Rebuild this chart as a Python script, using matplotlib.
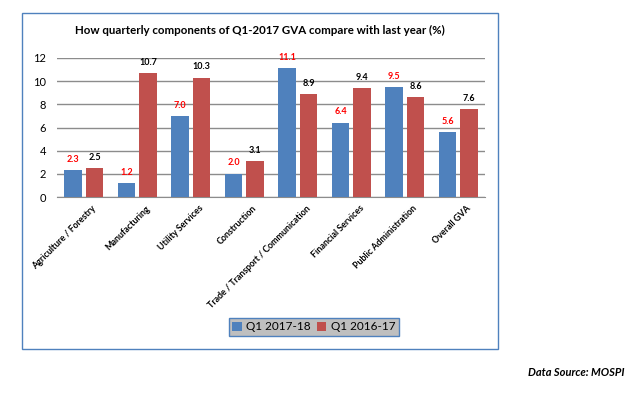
import matplotlib.pyplot as plt
import numpy as np

categories = ["Agriculture / Forestry", "Manufacturing", "Utility Services", "Construction",
              "Trade / Transport / Communication", "Financial Services",
              "Public Administration", "Overall GVA"]
q1_2017_18 = [2.3, 1.2, 7.0, 2.0, 11.1, 6.4, 9.5, 5.6]
q1_2016_17 = [2.5, 10.7, 10.3, 3.1, 8.9, 9.4, 8.6, 7.6]
yticks = [0, 2, 4, 6, 8, 10, 12]

blue = "#4F81BD"
red = "#C0504D"
plt.rcParams['font.family'] = ['Lato', 'DejaVu Sans']

fig = plt.figure(figsize=(6.32, 3.93), dpi=100)

# outer chart frame
frame = plt.Rectangle((22 / 632, 1 - 349 / 393), (498 - 22) / 632, (349 - 13) / 393,
                      transform=fig.transFigure, fill=False, edgecolor="#4F81BD", lw=1)
fig.patches.append(frame)

ax = fig.add_axes([57 / 632, 1 - 197 / 393, (485 - 57) / 632, (197 - 58) / 393])
x = np.arange(len(categories))
w = 0.32
b1 = ax.bar(x - 0.2, q1_2017_18, w, color=blue, label="Q1 2017-18", zorder=3)
b2 = ax.bar(x + 0.2, q1_2016_17, w, color=red, label="Q1 2016-17", zorder=3)

for rect, v in zip(b1, q1_2017_18):
    ax.text(rect.get_x() + rect.get_width() / 2, v + 0.55, f"{v:.1f}", ha="center", va="bottom",
            fontsize=6.5, fontweight="bold", color="red")
for rect, v in zip(b2, q1_2016_17):
    ax.text(rect.get_x() + rect.get_width() / 2, v + 0.55, f"{v:.1f}", ha="center", va="bottom",
            fontsize=6.5, fontweight="bold", color="black")

ax.set_xlim(-0.5, len(categories) - 0.5)
ax.set_ylim(0, 12)
ax.set_yticks(yticks)
ax.tick_params(axis="y", length=0, labelsize=8, pad=8)
ax.tick_params(axis="x", length=0, pad=5)
ax.set_xticks(x + 0.15)
ax.set_xticklabels(categories, rotation=45, ha="right", rotation_mode="anchor",
                   fontsize=6.4, fontweight="bold")
ax.yaxis.grid(True, color="#8c8c8c", lw=1, zorder=0)
for s in ["top", "right", "left"]:
    ax.spines[s].set_visible(False)
ax.spines["bottom"].set_color("#8c8c8c")

fig.text(260 / 632, 1 - 30 / 393,
         "How quarterly components of Q1-2017 GVA compare with last year (%)",
         ha="center", va="center", fontsize=8.3, fontweight="bold")

leg = fig.legend(loc="center", bbox_to_anchor=(314 / 632, 1 - 327 / 393), ncol=2,
                 fontsize=8.5, frameon=True, fancybox=False, handlelength=0.8, handleheight=0.8,
                 handletextpad=0.4, columnspacing=0.5, borderpad=0.3)
leg.get_frame().set_facecolor("#bfbfbf")
leg.get_frame().set_edgecolor("#4F81BD")
leg.get_frame().set_alpha(1)

fig.text(625 / 632, 1 - 373 / 393, "Data Source: MOSPI", ha="right", va="center",
         fontsize=8, fontweight="bold", style="italic")

fig.savefig("out.png", dpi=100)
